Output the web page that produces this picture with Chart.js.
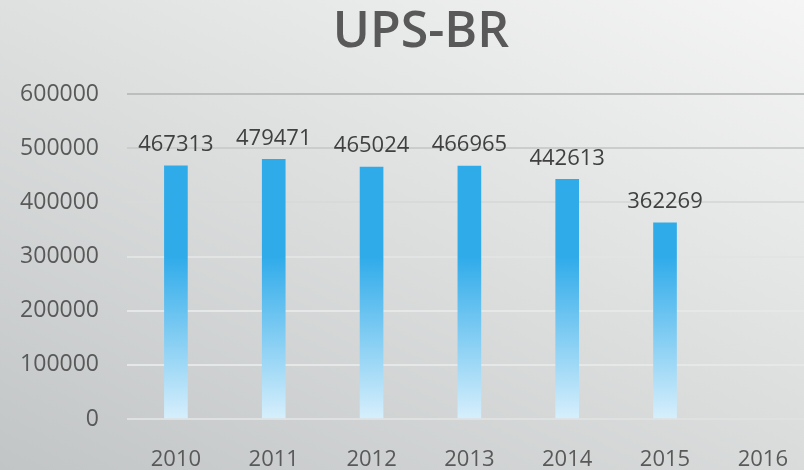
<!DOCTYPE html>
<html>
<head>
<meta charset="utf-8">
<script src="https://cdn.jsdelivr.net/npm/chart.js@4/dist/chart.umd.min.js"></script>
<style>
  html, body { margin:0; padding:0; width:804px; height:470px; overflow:hidden; }
  body { background: linear-gradient(25deg, #c2c5c6 0%, #dcdede 50%, #f5f5f5 100%); }
  #wrap { position:relative; width:816px; height:470px; }
</style>
</head>
<body>
<div id="wrap"><canvas id="c" width="816" height="470"></canvas></div>
<script>
const title = 'UPS-BR';
const categories = ['2010', '2011', '2012', '2013', '2014', '2015', '2016'];
const values = [467313, 479471, 465024, 466965, 442613, 362269, null];
const yTicks = [0, 100000, 200000, 300000, 400000, 500000, 600000];
const gridColors = ['#dfe0e0', '#e6e7e7', '#e6e7e7', '#e2e3e3', '#d8d9d9', '#cbcccc', '#bcbdbd'];

const barGradient = (ctx) => {
  const chart = ctx.chart;
  const el = ctx.element;
  const area = chart.chartArea;
  if (!area) return '#2fabea';
  let top = area.top, bottom = area.bottom;
  if (el && el.y !== undefined && el.base !== undefined && isFinite(el.y)) {
    top = Math.min(el.y, el.base); bottom = Math.max(el.y, el.base);
  }
  if (!(bottom > top)) return '#2fabea';
  const g = chart.ctx.createLinearGradient(0, bottom, 0, top);
  g.addColorStop(0, '#d7effc');
  g.addColorStop(0.5, '#2fabea');
  g.addColorStop(1, '#2fabea');
  return g;
};

const labelPlugin = {
  id: 'valueLabels',
  afterDatasetsDraw(chart) {
    const ctx = chart.ctx;
    const meta = chart.getDatasetMeta(0);
    ctx.save();
    ctx.font = '22px "Open Sans"';
    ctx.fillStyle = '#404040';
    ctx.textAlign = 'center';
    ctx.textBaseline = 'middle';
    meta.data.forEach((bar, i) => {
      const v = values[i];
      if (v === null || v === undefined) return;
      ctx.fillText(String(v), bar.x, bar.y - 21);
    });
    ctx.restore();
  }
};

const titlePlugin = {
  id: 'customTitle',
  afterDraw(chart) {
    const ctx = chart.ctx;
    ctx.save();
    ctx.font = '600 50px "Open Sans"';
    ctx.fillStyle = '#595959';
    ctx.textAlign = 'center';
    ctx.textBaseline = 'middle';
    ctx.fillText(title, 421, 33);
    ctx.restore();
  }
};

new Chart(document.getElementById('c'), {
  type: 'bar',
  data: {
    labels: categories,
    datasets: [{
      data: values,
      backgroundColor: barGradient,
      borderWidth: 0,
      barThickness: 23
    }]
  },
  plugins: [labelPlugin, titlePlugin],
  options: {
    responsive: false,
    animation: false,
    layout: { padding: { top: 94, right: 0, bottom: 0, left: 0 } },
    plugins: { legend: { display: false }, tooltip: { enabled: false }, title: { display: false } },
    scales: {
      x: {
        grid: { display: false, drawTicks: false },
        border: { display: false },
        ticks: { color: '#595959', font: { family: 'Open Sans', size: 22 }, padding: 28, maxRotation: 0 },
        afterFit(scale) { scale.height = 51; }
      },
      y: {
        min: 0, max: 600000,
        afterBuildTicks(scale) { scale.ticks = yTicks.map(v => ({ value: v })); },
        grid: {
          drawTicks: false,
          lineWidth: 2,
          color: (c) => gridColors[c.index] || '#d9d9d9'
        },
        border: { display: false },
        ticks: {
          color: '#595959', font: { family: 'Open Sans', size: 23 }, padding: 28,
          callback: (v) => String(v)
        },
        afterFit(scale) { scale.width = 127; }
      }
    }
  }
});
</script>
</body>
</html>
